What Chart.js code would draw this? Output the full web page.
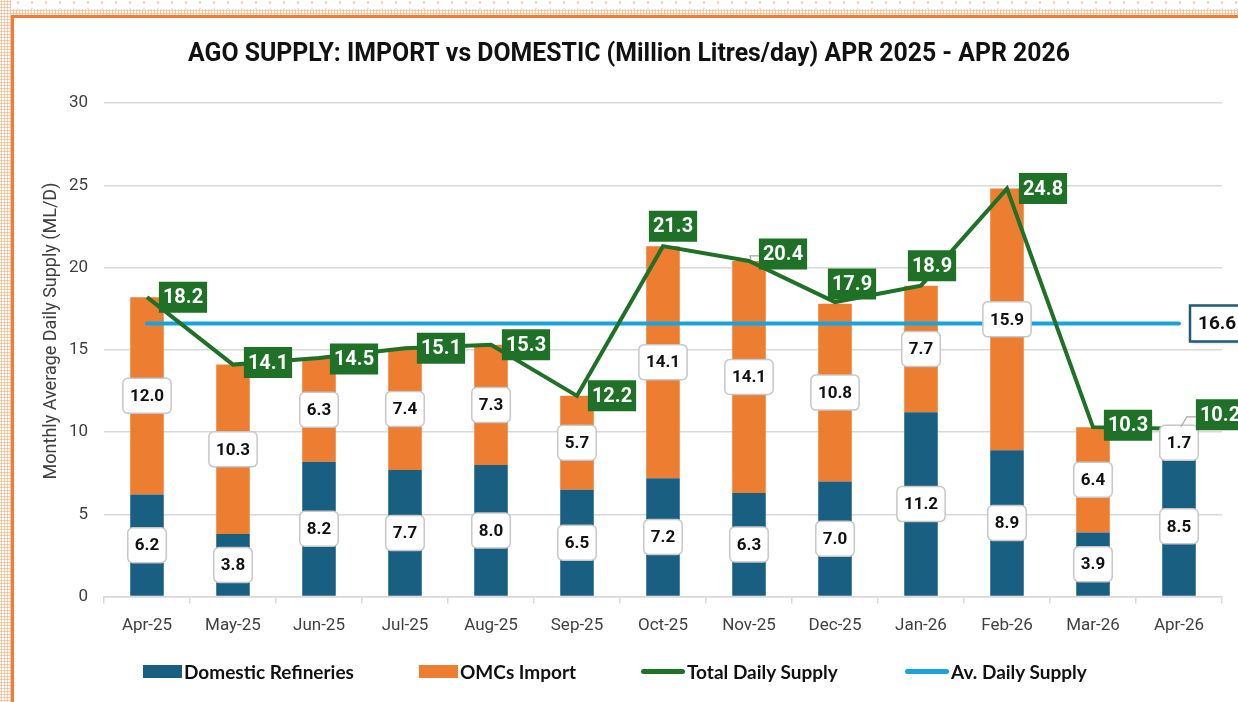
<!DOCTYPE html>
<html>
<head>
<meta charset="utf-8">
<script src="https://cdn.jsdelivr.net/npm/chart.js@4.4.1/dist/chart.umd.min.js"></script>
<style>
  html, body { margin: 0; padding: 0; width: 1238px; height: 702px; overflow: hidden; background: #fff; }
  #frame {
    position: absolute; left: 0; top: 0; width: 1238px; height: 702px;
    background-image: radial-gradient(circle, #f6b48a 0.9px, transparent 1.2px);
    background-size: 3px 3px;
  }
  #topgap {
    position: absolute; left: 11px; top: 0; right: 0; height: 9px; background: #fff;
    background-image: radial-gradient(circle, #f8c4a0 1px, transparent 1.3px);
    background-size: 14px 7px; background-position: 0 -1px;
  }
  #sheet {
    position: absolute; left: 11px; top: 15px; right: 0; bottom: 0; background: #fff;
    border-left: 3px solid #f47b2f; border-top: 3px solid #f47b2f;
  }
  #wrap { position: absolute; left: 0; top: 0; width: 1300px; height: 702px; }
  #legend {
    position: absolute; left: 0; top: 659px; height: 24px; width: 1238px;
    font-family: Lato, 'Open Sans', sans-serif; font-weight: 700; font-size: 19px; color: #111;
  }
  .item { position: absolute; top: 0; height: 24px; display: flex; align-items: center; white-space: nowrap; }
  .sw-bar { width: 39px; height: 13px; margin-right: 2px; }
  .sw-line { width: 44px; height: 5px; border-radius: 3px; margin-right: 2px; }
</style>
</head>
<body>
<div id="frame"></div>
<div id="topgap"></div>
<div id="sheet"></div>
<div id="wrap"><canvas id="chart"></canvas></div>
<div id="legend"></div>

<script>
const months = ['Apr-25', 'May-25', 'Jun-25', 'Jul-25', 'Aug-25', 'Sep-25', 'Oct-25',
  'Nov-25', 'Dec-25', 'Jan-26', 'Feb-26', 'Mar-26', 'Apr-26'];
const domestic = [6.2, 3.8, 8.2, 7.7, 8.0, 6.5, 7.2, 6.3, 7.0, 11.2, 8.9, 3.9, 8.5];
const imports = [12.0, 10.3, 6.3, 7.4, 7.3, 5.7, 14.1, 14.1, 10.8, 7.7, 15.9, 6.4, 1.7];
const totalSupply = [18.2, 14.1, 14.5, 15.1, 15.3, 12.2, 21.3, 20.4, 17.9, 18.9, 24.8, 10.3, 10.2];
const avgSupply = 16.6;

const TITLE = 'AGO SUPPLY: IMPORT vs DOMESTIC (Million Litres/day) APR 2025 - APR 2026';
const Y_TITLE = 'Monthly Average Daily Supply (ML/D)';

// where each green label sits relative to its point: [dx, dy, leader]
const totalLabelShift = [
  [36, 0], [35, -2], [35, 1], [36, 0], [35, 0], [35, 0], [10, -20],
  [34, -7, true], [17, -18], [11, -20], [36, 0], [35, -2], [41, -14, true],
];
// legend item left edges
const legendLeft = [143, 419, 641, 905];

const COLORS = {
  domestic: '#195f81',
  imports: '#ed7d31',
  total: '#1e7127',
  avg: '#19a3dc',
  grid: '#d9d9d9',
  text: '#404040',
};

Chart.defaults.font.family = 'Roboto, sans-serif';

function boxedText(ctx, text, cx, cy, opt) {
  ctx.save();
  ctx.font = opt.font;
  const tw = ctx.measureText(text).width;
  const w = tw + opt.padX * 2;
  const h = opt.h;
  const left = opt.left != null ? opt.left : cx - w / 2;
  const top = cy - h / 2;
  if (opt.shadow) {
    ctx.shadowColor = opt.shadow;
    ctx.shadowBlur = opt.shadowBlur || 2;
    ctx.shadowOffsetX = opt.shadowX || 0;
    ctx.shadowOffsetY = opt.shadowY || 0;
  }
  ctx.beginPath();
  ctx.roundRect(left, top, w, h, opt.radius || 0);
  ctx.fillStyle = opt.fill;
  ctx.fill();
  ctx.shadowColor = 'transparent';
  if (opt.stroke) {
    ctx.lineWidth = opt.lineWidth;
    ctx.strokeStyle = opt.stroke;
    ctx.stroke();
  }
  ctx.fillStyle = opt.color;
  ctx.textAlign = 'left';
  ctx.textBaseline = 'middle';
  ctx.fillText(text, left + opt.padX, cy + 1);
  ctx.restore();
  return { left, top, w, h };
}

const labelsPlugin = {
  id: 'valueLabels',
  afterDatasetsDraw(chart) {
    const ctx = chart.ctx;

    // white boxes in the middle of each bar segment
    [0, 1].forEach((di) => {
      const values = chart.data.datasets[di].data;
      chart.getDatasetMeta(di).data.forEach((bar, i) => {
        const { x, y, base } = bar.getProps(['x', 'y', 'base'], true);
        boxedText(ctx, values[i].toFixed(1), x, (y + base) / 2, {
          font: 'bold 17px Roboto', padX: 7, h: 35, radius: 5,
          fill: '#fff', stroke: '#c8c8c8', lineWidth: 1.5, color: '#111',
          shadow: 'rgba(0,0,0,0.12)', shadowBlur: 2,
        });
      });
    });

    // green boxes next to the total line
    const totals = chart.data.datasets[2].data;
    chart.getDatasetMeta(2).data.forEach((pt, i) => {
      const [dx, dy, leader] = totalLabelShift[i];
      const cx = pt.x + dx;
      const cy = pt.y + dy;
      ctx.save();
      ctx.font = 'bold 20px Roboto';
      const w = ctx.measureText(totals[i].toFixed(1)).width + 8;
      ctx.restore();
      if (leader) {
        ctx.save();
        ctx.strokeStyle = '#a6a6a6';
        ctx.lineWidth = 1.2;
        ctx.beginPath();
        ctx.moveTo(pt.x + 2, pt.y - 2);
        ctx.lineTo(cx - w / 2 - 9, cy + 2);
        ctx.lineTo(cx - w / 2, cy + 2);
        ctx.stroke();
        ctx.restore();
      }
      boxedText(ctx, totals[i].toFixed(1), cx, cy, {
        font: 'bold 20px Roboto', padX: 4, h: 31, fill: COLORS.total, color: '#fff',
      });
    });

    // average value box at the end of the blue line
    const avgMeta = chart.getDatasetMeta(3).data;
    const last = avgMeta[avgMeta.length - 1];
    boxedText(ctx, avgSupply.toFixed(1), 0, last.y, {
      left: last.x + 11, font: 'bold 19px Roboto', padX: 8, h: 36,
      fill: '#fff', stroke: '#1f5a78', lineWidth: 2.5, color: '#111',
      shadow: 'rgba(0,0,0,0.35)', shadowBlur: 3, shadowX: 2, shadowY: 2,
    });
  },
  afterDraw(chart) {
    const ctx = chart.ctx;

    // chart title, squeezed to the narrow heading width
    ctx.save();
    ctx.font = 'bold 26px Roboto';
    const tw = ctx.measureText(TITLE).width;
    const targetW = 882;
    ctx.translate(629, 54);
    ctx.scale(targetW / tw, 1);
    ctx.fillStyle = '#111';
    ctx.textAlign = 'center';
    ctx.textBaseline = 'middle';
    ctx.fillText(TITLE, 0, 0);
    ctx.restore();

    // y axis title
    ctx.save();
    ctx.translate(51, 331);
    ctx.rotate(-Math.PI / 2);
    ctx.font = '18px Roboto';
    ctx.fillStyle = COLORS.text;
    ctx.textAlign = 'center';
    ctx.textBaseline = 'middle';
    ctx.fillText(Y_TITLE, 0, 0);
    ctx.restore();
  },
};

const chart = new Chart(document.getElementById('chart'), {
  type: 'bar',
  data: {
    labels: months,
    datasets: [
      {
        label: 'Domestic Refineries',
        data: domestic,
        backgroundColor: COLORS.domestic,
        stack: 'supply',
        order: 3,
        categoryPercentage: 1,
        barPercentage: 0.39,
      },
      {
        label: 'OMCs Import',
        data: imports,
        backgroundColor: COLORS.imports,
        stack: 'supply',
        order: 3,
        categoryPercentage: 1,
        barPercentage: 0.39,
      },
      {
        type: 'line',
        label: 'Total Daily Supply',
        data: totalSupply,
        borderColor: COLORS.total,
        backgroundColor: COLORS.total,
        borderWidth: 4,
        pointRadius: 0,
        tension: 0,
        stack: 'total',
        order: 1,
      },
      {
        type: 'line',
        label: 'Av. Daily Supply',
        data: months.map(() => avgSupply),
        borderColor: COLORS.avg,
        backgroundColor: COLORS.avg,
        borderWidth: 4,
        borderCapStyle: 'round',
        pointRadius: 0,
        stack: 'avg',
        order: 2,
      },
    ],
  },
  options: {
    responsive: true,
    maintainAspectRatio: false,
    animation: false,
    layout: { padding: { left: 36, right: 78, top: 103, bottom: 54 } },
    plugins: {
      legend: { display: false },
      tooltip: { enabled: false },
      title: { display: false },
    },
    scales: {
      x: {
        stacked: true,
        grid: {
          offset: true,
          drawOnChartArea: false,
          drawTicks: true,
          tickLength: 7,
          color: COLORS.grid,
          lineWidth: 1.5,
        },
        border: { color: COLORS.grid, width: 1.5 },
        ticks: { color: COLORS.text, font: { size: 17 }, padding: 12 },
      },
      y: {
        stacked: true,
        min: 0,
        max: 30,
        ticks: { stepSize: 5, color: COLORS.text, font: { size: 17 }, padding: 16 },
        grid: { color: COLORS.grid, lineWidth: 1.5, drawTicks: false },
        border: { display: false },
        afterFit: (scale) => { scale.width = 68; },
      },
    },
  },
  plugins: [labelsPlugin],
});

const legendEl = document.getElementById('legend');
legendEl.innerHTML = chart.data.datasets.map((ds, i) => {
  const isLine = ds.type === 'line';
  const color = isLine ? ds.borderColor : ds.backgroundColor;
  return `<div class="item" style="left:${legendLeft[i]}px"><span class="${isLine ? 'sw-line' : 'sw-bar'}" style="background:${color}"></span>${ds.label}</div>`;
}).join('');
</script>
</body>
</html>
